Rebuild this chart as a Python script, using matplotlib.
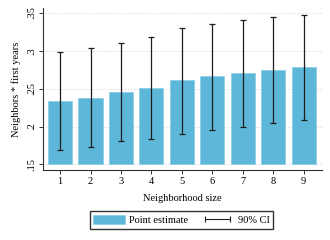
import numpy as np
import matplotlib
matplotlib.use("Agg")
import matplotlib.pyplot as plt
from matplotlib.lines import Line2D
from matplotlib.patches import Patch

# data
sizes = [1, 2, 3, 4, 5, 6, 7, 8, 9]
estimate = [0.234, 0.238, 0.246, 0.251, 0.261, 0.266, 0.2705, 0.275, 0.278]
ci_low = [0.169, 0.173, 0.181, 0.183, 0.190, 0.195, 0.200, 0.204, 0.208]
ci_high = [0.298, 0.303, 0.310, 0.318, 0.330, 0.335, 0.340, 0.344, 0.347]
yticks = [0.15, 0.2, 0.25, 0.3, 0.35]
ytick_labels = [".15", ".2", ".25", ".3", ".35"]

bar_color = "#5db7d9"
err_color = "#1e1e1e"
base = 0.15

plt.rcParams["font.family"] = ["Liberation Serif", "DejaVu Serif"]
plt.rcParams["font.size"] = 7.5

fig = plt.figure(figsize=(3.3, 2.4), dpi=100)
ax = fig.add_axes([0.1303, 0.2917, 0.8455, 0.675])

est = np.array(estimate)
ax.bar(sizes, est - base, bottom=base, width=0.79, color=bar_color,
       edgecolor="#8fcde5", linewidth=0.6, zorder=2)
lo = est - np.array(ci_low)
hi = np.array(ci_high) - est
ax.errorbar(sizes, est, yerr=[lo, hi], fmt="none", ecolor=err_color,
            elinewidth=0.9, capsize=2.2, capthick=0.9, zorder=3)

ax.set_xlim(0.44, 9.6)
ax.set_ylim(0.1427, 0.3562)
ax.set_xticks(sizes)
ax.set_yticks(yticks)
ax.set_yticklabels(ytick_labels, rotation=90, va="center")
for y in yticks:
    ax.axhline(y, color="#d0d0d0", linestyle=(0, (1, 2)), linewidth=0.7, zorder=1)

for s in ["top", "right"]:
    ax.spines[s].set_visible(False)
for s in ["left", "bottom"]:
    ax.spines[s].set_color("#333333")
    ax.spines[s].set_linewidth(0.8)
ax.tick_params(length=3, width=0.7, color="#333333", pad=2)

ax.set_xlabel("Neighborhood size", labelpad=6)
ax.set_ylabel("Neighbors * first years", labelpad=4)

handles = [Patch(facecolor=bar_color, edgecolor="#8fcde5", linewidth=0.6),
           Line2D([0], [0], color=err_color, linewidth=0.8, marker="|",
                  markersize=4, markeredgewidth=0.8)]
fig.legend(handles, ["Point estimate", "90% CI"], ncol=2,
           loc="center", bbox_to_anchor=(0.55, 0.083), frameon=True,
           fancybox=False, edgecolor="#333333", framealpha=1,
           numpoints=2, handlelength=3.0, handleheight=0.9,
           handletextpad=0.45, columnspacing=1.3, borderpad=0.35)

fig.savefig("out.png", dpi=100)
